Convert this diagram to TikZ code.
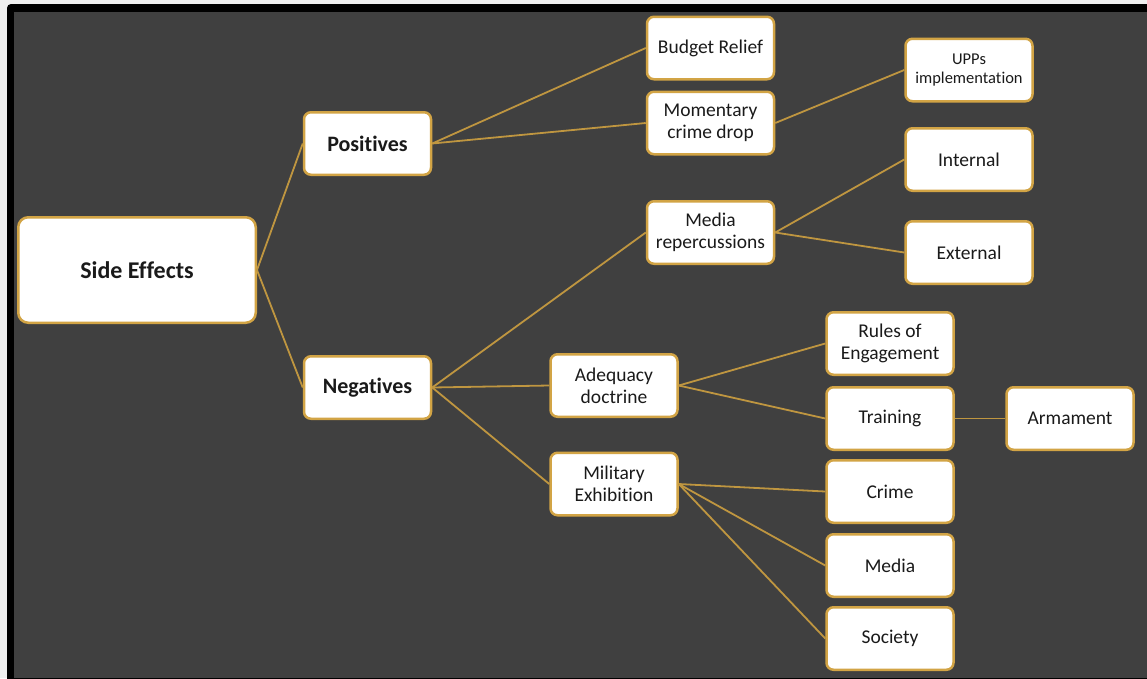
\documentclass[tikz,border=0pt]{standalone}
\usepackage{fontspec}
\setmainfont{Carlito}[Ligatures=NoCommon]
\definecolor{bgdark}{HTML}{404040}
\definecolor{outer}{HTML}{F0F0F0}
\definecolor{gold}{HTML}{D2A445}
\definecolor{linkgold}{HTML}{BF9640}
\definecolor{txt}{HTML}{1A1A1A}
\tikzset{
  box/.style={draw=gold, line width=2.5pt, fill=white, rounded corners=7pt,
    minimum width=127pt, minimum height=62.5pt, inner sep=0pt, align=center,
    text=txt, font=\fontsize{19.5}{22}\selectfont},
  boldbox/.style={box, font=\fontsize{22}{25}\selectfont\bfseries},
  smallbox/.style={box, font=\fontsize{16.5}{18.5}\selectfont},
  bigbox/.style={box, minimum width=237.5pt, minimum height=105.5pt, rounded corners=10pt,
    font=\fontsize{24}{27}\selectfont\bfseries},
  link/.style={draw=linkgold, line width=1.8pt}
}
\begin{document}
\begin{tikzpicture}[x=1pt,y=-1pt]
\useasboundingbox (0,0) rectangle (1147,678);
\fill[outer] (0,0) rectangle (1147,678);
\fill[black, rounded corners=4pt] (7,4) rectangle (1170,700);
\fill[bgdark] (14,12) rectangle (1147,678);

\node[bigbox] (se) at (137,270) {Side Effects};
\node[boldbox] (pos) at (367.5,143.5) {Positives};
\node[boldbox] (neg) at (367.5,387.5) {Negatives};
\node[box] (br) at (710.5,48) {Budget Relief};
\node[box] (mcd) at (710.5,123) {Momentary\\crime drop};
\node[smallbox] (upp) at (969,70) {UPPs\\implementation};
\node[box] (mr) at (710.5,232.5) {Media\\repercussions};
\node[box] (int) at (969,159.5) {Internal};
\node[box] (ext) at (969,252.5) {External};
\node[box] (ad) at (614,385.5) {Adequacy\\doctrine};
\node[box] (mil) at (614,484) {Military\\Exhibition};
\node[box] (roe) at (890,343.5) {Rules of\\Engagement};
\node[box] (tr) at (890,418.5) {Training};
\node[box] (arm) at (1070,418.5) {Armament};
\node[box] (cr) at (890,491.5) {Crime};
\node[box] (med) at (890,565.5) {Media};
\node[box] (soc) at (890,638.5) {Society};

\draw[link] (se.east) -- (pos.west);
\draw[link] (se.east) -- (neg.west);
\draw[link] (pos.east) -- (br.west);
\draw[link] (pos.east) -- (mcd.west);
\draw[link] (mcd.east) -- (upp.west);
\draw[link] (mr.east) -- (int.west);
\draw[link] (mr.east) -- (ext.west);
\draw[link] (neg.east) -- (mr.west);
\draw[link] (neg.east) -- (ad.west);
\draw[link] (neg.east) -- (mil.west);
\draw[link] (ad.east) -- (roe.west);
\draw[link] (ad.east) -- (tr.west);
\draw[link] (tr.east) -- (arm.west);
\draw[link] (mil.east) -- (cr.west);
\draw[link] (mil.east) -- (med.west);
\draw[link] (mil.east) -- (soc.west);
\end{tikzpicture}
\end{document}
